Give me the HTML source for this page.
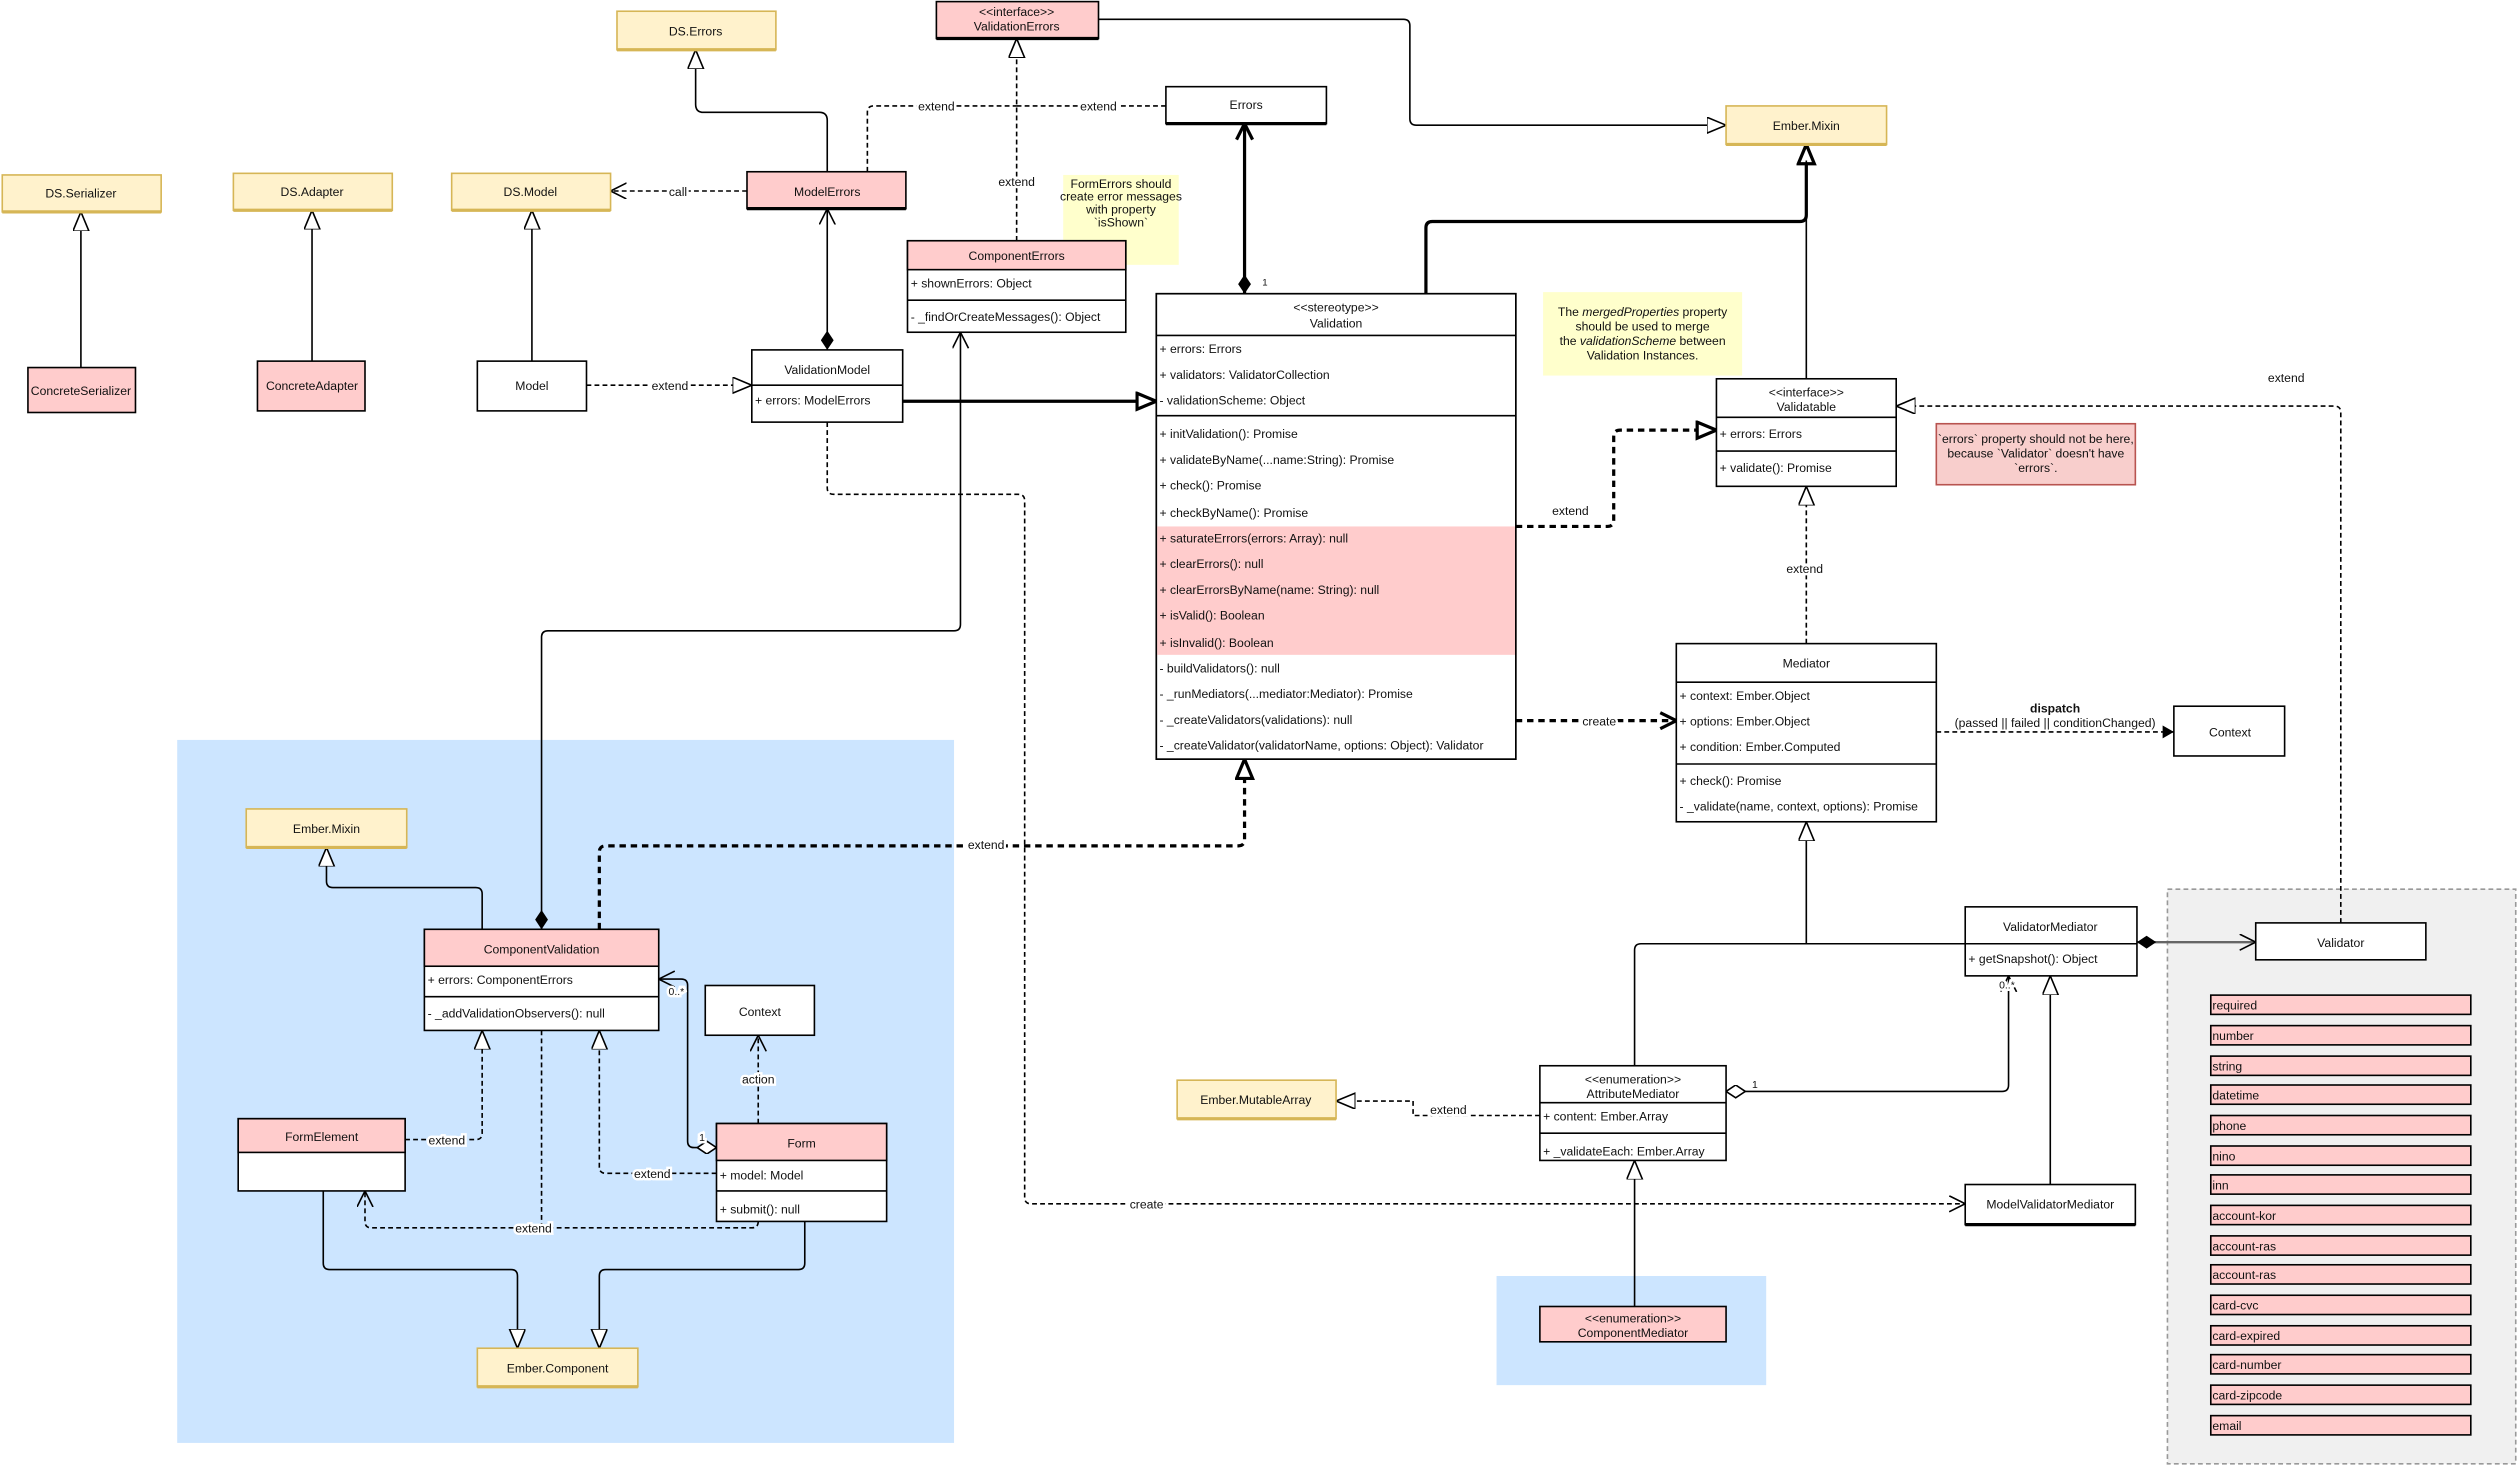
<!DOCTYPE html>
<html><head><meta charset="utf-8"><style>
html,body{margin:0;padding:0;background:#fff}
svg{display:block}
text{font-family:"Liberation Sans",sans-serif;font-size:7.6px;fill:#111}
.c{text-anchor:middle}
.lb{paint-order:stroke;stroke:#fff;stroke-width:3px;text-anchor:middle}
.box{fill:#fff;stroke:#000;stroke-width:1}
.pk{fill:#ffcccc;stroke:#000;stroke-width:1}
.yl{fill:#fff2cc;stroke:#d6b656;stroke-width:1}
.ln{fill:none;stroke:#000;stroke-width:1}
.th{fill:none;stroke:#000;stroke-width:2}
.ds{fill:none;stroke:#000;stroke-width:1;stroke-dasharray:3,2}
.dt{fill:none;stroke:#000;stroke-width:2;stroke-dasharray:4,3}
</style></head><body>
<svg width="2518" height="1467" viewBox="0 0 1568 914" xmlns="http://www.w3.org/2000/svg">
<defs>
<marker id="tri" markerUnits="userSpaceOnUse" markerWidth="14" markerHeight="12" refX="12" refY="5" orient="auto"><path d="M0,0 L12,5 L0,10 z" fill="#fff" stroke="#000" stroke-width="1"/></marker>
<marker id="triT" markerUnits="userSpaceOnUse" markerWidth="16" markerHeight="14" refX="13" refY="6" orient="auto"><path d="M1,1 L13,6 L1,11 z" fill="#fff" stroke="#000" stroke-width="2"/></marker>
<marker id="arr" markerUnits="userSpaceOnUse" markerWidth="12" markerHeight="12" refX="10" refY="5" orient="auto"><path d="M0,0 L10,5 L0,10" fill="none" stroke="#000" stroke-width="1"/></marker>
<marker id="arrT" markerUnits="userSpaceOnUse" markerWidth="14" markerHeight="14" refX="11" refY="6" orient="auto"><path d="M1,1 L11,6 L1,11" fill="none" stroke="#000" stroke-width="2"/></marker>
<marker id="fil" markerUnits="userSpaceOnUse" markerWidth="10" markerHeight="10" refX="7" refY="4" orient="auto"><path d="M0,0 L7,4 L0,8 z" fill="#000"/></marker>
<marker id="dia" markerUnits="userSpaceOnUse" markerWidth="14" markerHeight="10" refX="0" refY="4" orient="auto"><path d="M0,4 L6,0 L12,4 L6,8 z" fill="#000"/></marker>
<marker id="diaO" markerUnits="userSpaceOnUse" markerWidth="14" markerHeight="10" refX="0" refY="4" orient="auto"><path d="M0,4 L6,0 L12,4 L6,8 z" fill="#fff" stroke="#000" stroke-width="1"/></marker>
</defs>

<rect x="110" y="461" width="484" height="438" fill="#cce5ff"/>
<rect x="932" y="795" width="168" height="68" fill="#cce5ff"/>
<rect x="1350" y="554" width="217" height="358" fill="#f0f0f0" stroke="#999" stroke-dasharray="3,2"/>

<path class="ln" d="M50,229 V132" marker-end="url(#tri)"/>
<path class="ln" d="M194,225 V131" marker-end="url(#tri)"/>
<path class="ln" d="M331,225 V131" marker-end="url(#tri)"/>
<path class="ln" d="M515,107 V75 Q515,70 510,70 H438 Q433,70 433,65 V31" marker-end="url(#tri)"/>
<path class="ds" d="M540,107 V70 Q540,66 544,66 H633"/>
<text class="lb" x="583" y="69">extend</text>
<path class="ds" d="M726,66 H633"/>
<text class="lb" x="684" y="69">extend</text>
<path class="ds" d="M633,150 V24" marker-end="url(#tri)"/>
<text class="lb" x="633" y="116">extend</text>
<path class="ln" d="M684,12 H874 Q878,12 878,16 V74 Q878,78 882,78 H1075" marker-end="url(#tri)"/>
<path class="th" d="M775,183 V77" marker-start="url(#dia)" marker-end="url(#arrT)"/>
<text x="786" y="178" style="font-size:6px">1</text>
<path class="th" d="M888,183 V142 Q888,138 892,138 H1121 Q1125,138 1125,134 V90" marker-end="url(#triT)"/>
<path class="ln" d="M1125,236 V100"/>
<path class="ds" d="M465,119 H380" marker-end="url(#arr)"/>
<text class="lb" x="422" y="122">call</text>
<path class="ln" d="M515,218 V130" marker-start="url(#dia)" marker-end="url(#arr)"/>
<path class="ds" d="M365,240 H468" marker-end="url(#tri)"/>
<text class="lb" x="417" y="243">extend</text>
<path class="th" d="M562,250 H720" marker-end="url(#triT)"/>
<path class="ds" d="M515,263 V304 Q515,308 519,308 H634 Q638,308 638,312 V746 Q638,750 642,750 H1224" marker-end="url(#arr)"/>
<text class="lb" x="714" y="753">create</text>
<path class="ln" d="M337,579 V397 Q337,393 341,393 H594 Q598,393 598,389 V207" marker-start="url(#dia)" marker-end="url(#arr)"/>
<path class="dt" d="M944,328 H1001 Q1005,328 1005,324 V272 Q1005,268 1009,268 H1069" marker-end="url(#triT)"/>
<text class="lb" x="978" y="321">extend</text>
<path class="ds" d="M1125,401 V303" marker-end="url(#tri)"/>
<text class="lb" x="1124" y="357">extend</text>
<path class="dt" d="M944,449 H1044" marker-end="url(#arrT)"/>
<text class="lb" x="996" y="452">create</text>
<path class="ds" d="M1206,456 H1354" marker-end="url(#fil)"/>
<text class="c" x="1280" y="444" style="font-weight:bold">dispatch</text>
<text class="c" x="1280" y="453">(passed || failed || conditionChanged)</text>
<path class="dt" d="M373,579 V531 Q373,527 377,527 H771 Q775,527 775,523 V473" marker-end="url(#triT)"/>
<text class="lb" x="614" y="529">extend</text>
<path class="ln" d="M300,579 V557 Q300,553 296,553 H207 Q203,553 203,549 V528" marker-end="url(#tri)"/>
<path class="ds" d="M252,710 H296 Q300,710 300,706 V642" marker-end="url(#tri)"/>
<text class="lb" x="278" y="713">extend</text>
<path class="ds" d="M446,731 H377 Q373,731 373,727 V642" marker-end="url(#tri)"/>
<text class="lb" x="406" y="734">extend</text>
<path class="ln" d="M446,715 H432 Q428,715 428,711 V614 Q428,610 424,610 H410" marker-start="url(#diaO)" marker-end="url(#arr)"/>
<text class="lb" x="437" y="711" style="font-size:6.5px">1</text>
<text class="lb" x="421" y="620" style="font-size:6.5px">0..*</text>
<path class="ds" d="M472,700 V645" marker-end="url(#arr)"/>
<text class="lb" x="472" y="675">action</text>
<path class="ds" d="M337,642 V765"/>
<path class="ds" d="M472,761 V761 Q472,765 468,765 H231 Q227,765 227,761 V742" marker-end="url(#arr)"/>
<text class="lb" x="332" y="768">extend</text>
<path class="ln" d="M201,742 V787 Q201,791 205,791 H318 Q322,791 322,795 V840" marker-end="url(#tri)"/>
<path class="ln" d="M501,761 V787 Q501,791 497,791 H377 Q373,791 373,795 V840" marker-end="url(#tri)"/>
<path class="ln" d="M1018,664 V592 Q1018,588 1022,588 H1224"/>
<path class="ln" d="M1125,588 V512" marker-end="url(#tri)"/>
<path class="ln" d="M1075,680 H1247 Q1251,680 1251,676 V608" marker-start="url(#diaO)" marker-end="url(#arr)"/>
<text class="lb" x="1093" y="678" style="font-size:6.5px">1</text>
<text class="lb" x="1250" y="616" style="font-size:6.5px">0..*</text>
<path class="ds" d="M959,695 H880 V686 H832" marker-end="url(#tri)"/>
<text class="lb" x="902" y="694">extend</text>
<path class="ln" d="M1018,814 V723" marker-end="url(#tri)"/>
<path class="ln" d="M1277,738 V608" marker-end="url(#tri)"/>
<path class="ln" d="M1331,587 H1405" style="stroke:#666;stroke-width:1.5" marker-start="url(#dia)" marker-end="url(#arr)"/>
<path class="ds" d="M1458,575 V257 Q1458,253 1454,253 H1181" marker-end="url(#tri)"/>
<text class="c" x="1424" y="238">extend</text>

<rect class="yl" x="384" y="7" width="99" height="24"/><line x1="384" y1="31" x2="483" y2="31" stroke="#d6b656" stroke-width="2"/><text class="c" x="433" y="22">DS.Errors</text>
<rect class="yl" x="1075" y="66" width="100" height="24"/><line x1="1075" y1="90" x2="1175" y2="90" stroke="#d6b656" stroke-width="2"/><text class="c" x="1125" y="81">Ember.Mixin</text>
<rect class="yl" x="1" y="109" width="99" height="23"/><line x1="1" y1="132" x2="100" y2="132" stroke="#d6b656" stroke-width="2"/><text class="c" x="50" y="123">DS.Serializer</text>
<rect class="yl" x="145" y="108" width="99" height="23"/><line x1="145" y1="131" x2="244" y2="131" stroke="#d6b656" stroke-width="2"/><text class="c" x="194" y="122">DS.Adapter</text>
<rect class="yl" x="281" y="108" width="99" height="23"/><line x1="281" y1="131" x2="380" y2="131" stroke="#d6b656" stroke-width="2"/><text class="c" x="330" y="122">DS.Model</text>
<rect class="yl" x="153" y="504" width="100" height="24"/><line x1="153" y1="528" x2="253" y2="528" stroke="#d6b656" stroke-width="2"/><text class="c" x="203" y="519">Ember.Mixin</text>
<rect class="yl" x="297" y="840" width="100" height="24"/><line x1="297" y1="864" x2="397" y2="864" stroke="#d6b656" stroke-width="2"/><text class="c" x="347" y="855">Ember.Component</text>
<rect class="yl" x="733" y="673" width="99" height="24"/><line x1="733" y1="697" x2="832" y2="697" stroke="#d6b656" stroke-width="2"/><text class="c" x="782" y="688">Ember.MutableArray</text>

<rect class="pk" x="583" y="1" width="101" height="23"/><line x1="583" y1="24" x2="684" y2="24" stroke="#000" stroke-width="2"/>
<text class="c" x="633" y="10">&lt;&lt;interface&gt;&gt;</text><text class="c" x="633" y="19">ValidationErrors</text>
<rect class="box" x="726" y="54" width="100" height="23"/><line x1="726" y1="77" x2="826" y2="77" stroke="#000" stroke-width="2"/><text class="c" x="776" y="68">Errors</text>
<rect class="pk" x="465" y="107" width="99" height="23"/><line x1="465" y1="130" x2="564" y2="130" stroke="#000" stroke-width="2"/><text class="c" x="515" y="122">ModelErrors</text>
<rect x="662" y="109" width="72" height="56" fill="#ffffcc"/>
<text class="c" x="698" y="117">FormErrors should</text><text class="c" x="698" y="125">create error messages</text><text class="c" x="698" y="133">with property</text><text class="c" x="698" y="141">`isShown`</text>
<rect class="box" x="565" y="150" width="136" height="57"/><rect class="pk" x="565" y="150" width="136" height="18"/>
<text class="c" x="633" y="162">ComponentErrors</text>
<text x="567" y="179">+ shownErrors: Object</text><line x1="565" y1="187" x2="701" y2="187" stroke="#000"/>
<text x="567" y="200">- _findOrCreateMessages(): Object</text>

<rect class="pk" x="17" y="229" width="67" height="28"/><text class="c" x="50" y="246">ConcreteSerializer</text>
<rect class="pk" x="160" y="225" width="67" height="31"/><text class="c" x="194" y="243">ConcreteAdapter</text>
<rect class="box" x="297" y="225" width="68" height="31"/><text class="c" x="331" y="243">Model</text>
<rect class="box" x="468" y="218" width="94" height="45"/><line x1="468" y1="240" x2="562" y2="240" stroke="#000"/>
<text class="c" x="515" y="233">ValidationModel</text><text x="470" y="252">+ errors: ModelErrors</text>

<rect class="box" x="720" y="183" width="224" height="290"/>
<rect x="720.5" y="328" width="223" height="80" fill="#ffcccc"/>
<line x1="720" y1="209" x2="944" y2="209" stroke="#000"/><line x1="720" y1="259" x2="944" y2="259" stroke="#000"/>
<rect x="720" y="183" width="224" height="290" fill="none" stroke="#000"/>
<text class="c" x="832" y="194">&lt;&lt;stereotype&gt;&gt;</text><text class="c" x="832" y="204">Validation</text>
<text x="722" y="220">+ errors: Errors</text>
<text x="722" y="236">+ validators: ValidatorCollection</text>
<text x="722" y="252">- validationScheme: Object</text>
<text x="722" y="273">+ initValidation(): Promise</text>
<text x="722" y="289">+ validateByName(...name:String): Promise</text>
<text x="722" y="305">+ check(): Promise</text>
<text x="722" y="322">+ checkByName(): Promise</text>
<text x="722" y="338">+ saturateErrors(errors: Array): null</text>
<text x="722" y="354">+ clearErrors(): null</text>
<text x="722" y="370">+ clearErrorsByName(name: String): null</text>
<text x="722" y="386">+ isValid(): Boolean</text>
<text x="722" y="403">+ isInvalid(): Boolean</text>
<text x="722" y="419">- buildValidators(): null</text>
<text x="722" y="435">- _runMediators(...mediator:Mediator): Promise</text>
<text x="722" y="451">- _createValidators(validations): null</text>
<text x="722" y="467">- _createValidator(validatorName, options: Object): Validator</text>

<rect x="961" y="182" width="124" height="52" fill="#ffffcc"/>
<text class="c" x="1023" y="197">The <tspan font-style="italic">mergedProperties</tspan> property</text>
<text class="c" x="1023" y="206">should be used to merge</text>
<text class="c" x="1023" y="215">the <tspan font-style="italic">validationScheme</tspan> between</text>
<text class="c" x="1023" y="224">Validation Instances.</text>

<rect class="box" x="1069" y="236" width="112" height="67"/><line x1="1069" y1="260" x2="1181" y2="260" stroke="#000"/><line x1="1069" y1="281" x2="1181" y2="281" stroke="#000"/>
<text class="c" x="1125" y="247">&lt;&lt;interface&gt;&gt;</text><text class="c" x="1125" y="256">Validatable</text>
<text x="1071" y="273">+ errors: Errors</text><text x="1071" y="294">+ validate(): Promise</text>
<rect x="1206" y="264" width="124" height="38" fill="#f8cecc" stroke="#b85450"/>
<text class="c" x="1268" y="276">`errors` property should not be here,</text>
<text class="c" x="1268" y="285">because `Validator` doesn't have</text>
<text class="c" x="1268" y="294">`errors`.</text>

<rect class="box" x="1044" y="401" width="162" height="111"/><line x1="1044" y1="425" x2="1206" y2="425" stroke="#000"/><line x1="1044" y1="476" x2="1206" y2="476" stroke="#000"/>
<text class="c" x="1125" y="416">Mediator</text>
<text x="1046" y="436">+ context: Ember.Object</text>
<text x="1046" y="452">+ options: Ember.Object</text>
<text x="1046" y="468">+ condition: Ember.Computed</text>
<text x="1046" y="489">+ check(): Promise</text>
<text x="1046" y="505">- _validate(name, context, options): Promise</text>
<rect class="box" x="1354" y="440" width="69" height="31"/><text class="c" x="1389" y="459">Context</text>

<rect class="box" x="264" y="579" width="146" height="63"/><rect class="pk" x="264" y="579" width="146" height="23"/><line x1="264" y1="621" x2="410" y2="621" stroke="#000"/>
<text class="c" x="337" y="594">ComponentValidation</text>
<text x="266" y="613">+ errors: ComponentErrors</text>
<text x="266" y="634">- _addValidationObservers(): null</text>
<rect class="box" x="439" y="614" width="68" height="31"/><text class="c" x="473" y="633">Context</text>
<rect class="box" x="148" y="697" width="104" height="45"/><rect class="pk" x="148" y="697" width="104" height="21"/>
<text class="c" x="200" y="711">FormElement</text>
<rect class="box" x="446" y="700" width="106" height="61"/><rect class="pk" x="446" y="700" width="106" height="23"/><line x1="446" y1="742" x2="552" y2="742" stroke="#000"/>
<text class="c" x="499" y="715">Form</text><text x="448" y="735">+ model: Model</text><text x="448" y="756">+ submit(): null</text>

<rect class="box" x="1405" y="575" width="106" height="23"/><text class="c" x="1458" y="590">Validator</text>
<g>
<rect class="pk" x="1377" y="620" width="162" height="12"/><text x="1378" y="629">required</text>
<rect class="pk" x="1377" y="639" width="162" height="12"/><text x="1378" y="648">number</text>
<rect class="pk" x="1377" y="658" width="162" height="12"/><text x="1378" y="667">string</text>
<rect class="pk" x="1377" y="676" width="162" height="12"/><text x="1378" y="685">datetime</text>
<rect class="pk" x="1377" y="695" width="162" height="12"/><text x="1378" y="704">phone</text>
<rect class="pk" x="1377" y="714" width="162" height="12"/><text x="1378" y="723">nino</text>
<rect class="pk" x="1377" y="732" width="162" height="12"/><text x="1378" y="741">inn</text>
<rect class="pk" x="1377" y="751" width="162" height="12"/><text x="1378" y="760">account-kor</text>
<rect class="pk" x="1377" y="770" width="162" height="12"/><text x="1378" y="779">account-ras</text>
<rect class="pk" x="1377" y="788" width="162" height="12"/><text x="1378" y="797">account-ras</text>
<rect class="pk" x="1377" y="807" width="162" height="12"/><text x="1378" y="816">card-cvc</text>
<rect class="pk" x="1377" y="826" width="162" height="12"/><text x="1378" y="835">card-expired</text>
<rect class="pk" x="1377" y="844" width="162" height="12"/><text x="1378" y="853">card-number</text>
<rect class="pk" x="1377" y="863" width="162" height="12"/><text x="1378" y="872">card-zipcode</text>
<rect class="pk" x="1377" y="882" width="162" height="12"/><text x="1378" y="891">email</text>
</g>

<rect class="box" x="1224" y="565" width="107" height="43"/><line x1="1224" y1="588" x2="1331" y2="588" stroke="#000"/>
<text class="c" x="1277" y="580">ValidatorMediator</text><text x="1226" y="600">+ getSnapshot(): Object</text>
<rect class="box" x="959" y="664" width="116" height="59"/><line x1="959" y1="687" x2="1075" y2="687" stroke="#000"/><line x1="959" y1="706" x2="1075" y2="706" stroke="#000"/>
<text class="c" x="1017" y="675">&lt;&lt;enumeration&gt;&gt;</text><text class="c" x="1017" y="684">AttributeMediator</text>
<text x="961" y="698">+ content: Ember.Array</text><text x="961" y="720">+ _validateEach: Ember.Array</text>
<rect class="box" x="1224" y="738" width="106" height="25"/><line x1="1224" y1="763" x2="1330" y2="763" stroke="#000" stroke-width="2"/><text class="c" x="1277" y="753">ModelValidatorMediator</text>
<rect class="pk" x="959" y="814" width="116" height="22"/>
<text class="c" x="1017" y="824">&lt;&lt;enumeration&gt;&gt;</text><text class="c" x="1017" y="833">ComponentMediator</text>
</svg>
</body></html>
